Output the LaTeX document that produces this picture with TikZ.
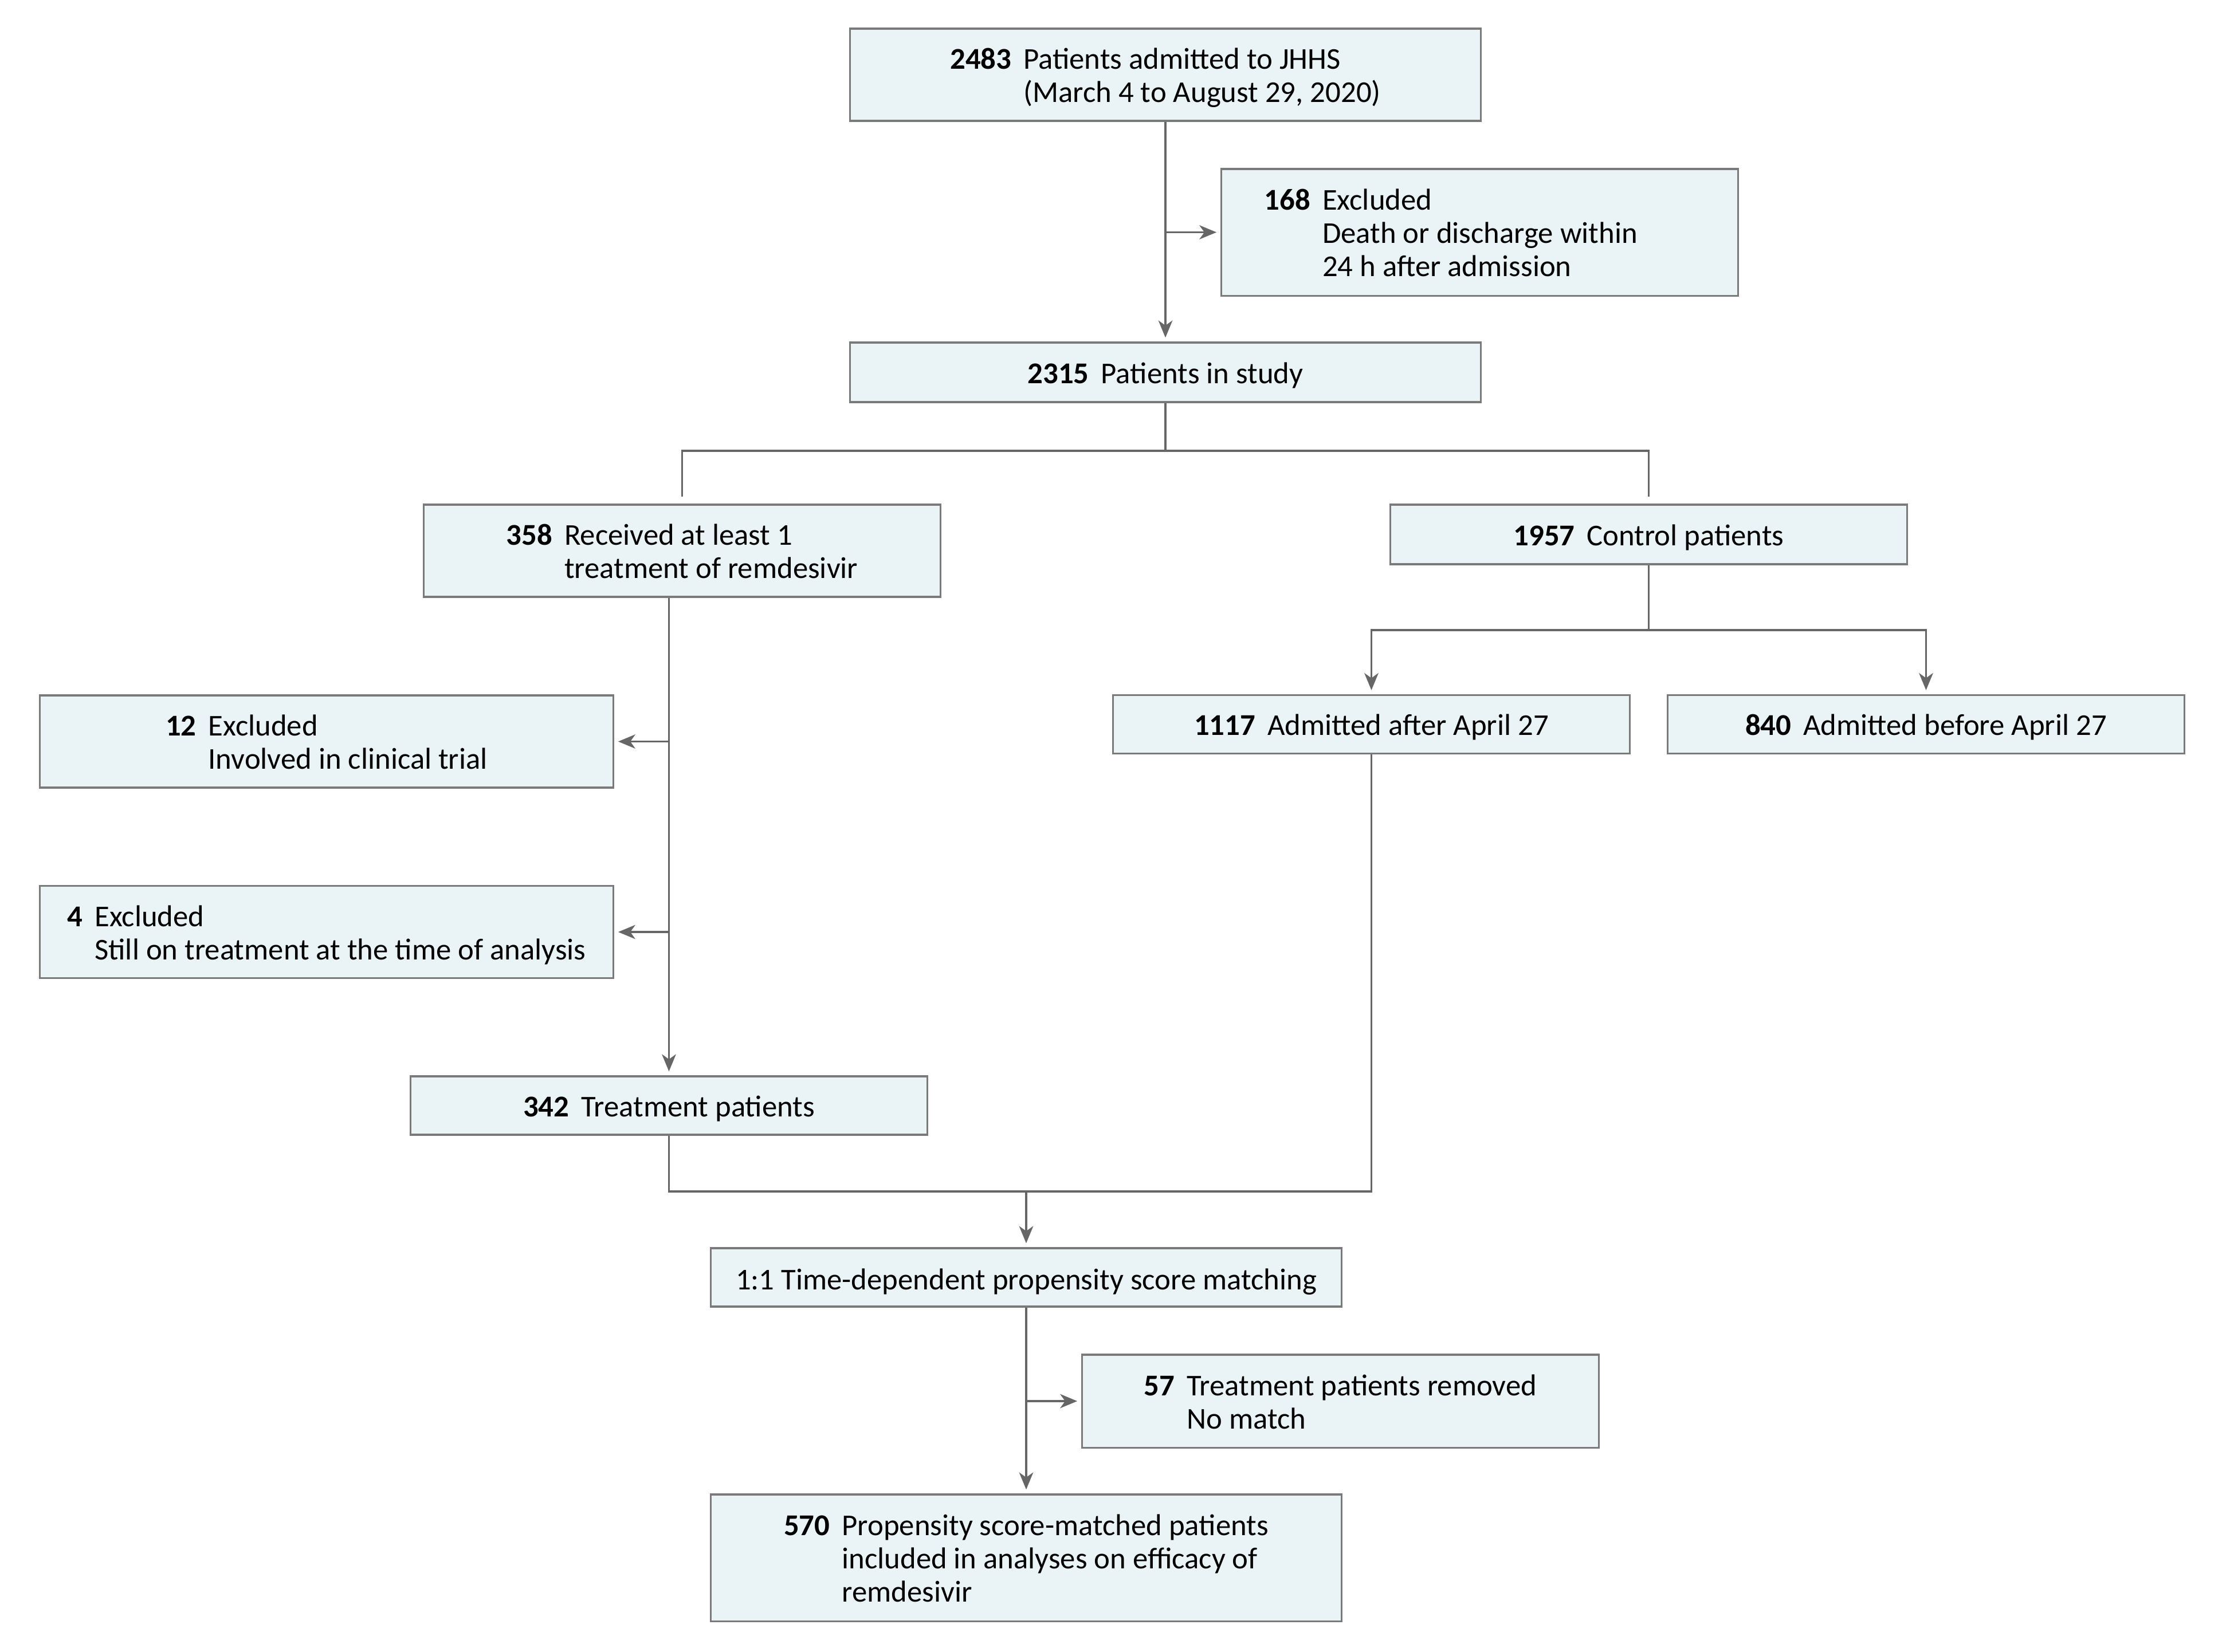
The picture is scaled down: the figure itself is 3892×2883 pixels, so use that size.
\documentclass[tikz,border=0pt]{standalone}
\usepackage{fontspec}
\setmainfont{Carlito}
\usepackage{tikz}
\usetikzlibrary{arrows.meta, positioning, calc}
\definecolor{boxfill}{RGB}{234, 243, 245}
\definecolor{boxedge}{RGB}{122, 122, 122}
\definecolor{linkgray}{RGB}{102, 102, 102}
\newcommand{\lowered}[1]{\raisebox{-2.2pt}[\height][\depth]{#1}}
\newcommand{\ntext}[2]{\lowered{\begin{tabular}{@{}l@{\hspace{6pt}}l@{}}\textbf{#1} & #2\end{tabular}}}
\tikzset{
  flowbox/.style={draw=boxedge, fill=boxfill, line width=0.9pt, inner sep=0pt,
    font=\fontsize{15pt}{16.5pt}\selectfont},
  conn/.style={draw=linkgray, line width=0.9pt},
  arr/.style={conn, -{Stealth[length=8.5pt, width=7pt, inset=2.5pt]}, shorten >=2pt},
  gapend/.style={shorten >=0.12cm}
}

\begin{document}
\begin{tikzpicture}[x=0.01cm, y=-0.01cm]
  \useasboundingbox[fill=white] (0,0) rectangle (3892,2883);

  % top of the flow
  \node[flowbox, minimum width=11cm, minimum height=1.61cm] (b2483) at (2034,130.5)
    {\ntext{2483}{Patients admitted to JHHS\\ & (March 4 to August 29, 2020)}};
  \node[flowbox, minimum width=9.01cm, minimum height=2.21cm] (b168) at (2582.5,405.5)
    {\ntext{168}{Excluded\\ & Death or discharge within\\ & 24 h after admission}\hspace*{1cm}};
  \node[flowbox, minimum width=11cm, minimum height=1.04cm] (b2315) at (2034,650)
    {\ntext{2315}{Patients in study}};

  % two arms
  \node[flowbox, minimum width=9.01cm, minimum height=1.61cm] (b358) at (1190.5,961.5)
    {\ntext{358}{Received at least 1\\ & treatment of remdesivir}};
  \node[flowbox, minimum width=9.01cm, minimum height=1.04cm] (b1957) at (2877.5,933)
    {\ntext{1957}{Control patients}};
  \node[flowbox, minimum width=9.01cm, minimum height=1.02cm] (b1117) at (2393.5,1264.5)
    {\ntext{1117}{Admitted after April 27}};
  \node[flowbox, minimum width=9.01cm, minimum height=1.02cm] (b840) at (3361.5,1264.5)
    {\ntext{840}{Admitted before April 27}};
  \node[flowbox, minimum width=10cm, minimum height=1.61cm] (b12) at (570,1294.5)
    {\ntext{12}{Excluded\\ & Involved in clinical trial}};
  \node[flowbox, minimum width=10cm, minimum height=1.61cm] (b4) at (570,1627)
    {\ntext{4}{Excluded\\ & Still on treatment at the time of analysis}};
  \node[flowbox, minimum width=9.01cm, minimum height=1.02cm] (b342) at (1167.5,1930)
    {\ntext{342}{Treatment patients}};

  % matching
  \node[flowbox, minimum width=11cm, minimum height=1.02cm] (bmatch) at (1791,2230)
    {\lowered{1:1 Time-dependent propensity score matching}};
  \node[flowbox, minimum width=9.01cm, minimum height=1.62cm] (b57) at (2339.5,2446)
    {\ntext{57}{Treatment patients removed\\ & No match}};
  \node[flowbox, minimum width=11cm, minimum height=2.21cm] (b570) at (1791,2719.5)
    {\ntext{570}{Propensity score-matched patients\\ & included in analyses on efficacy of\\ & remdesivir}};

  % connectors
  \coordinate (split) at (2034,787);
  \coordinate (split2) at (2877.5,1100);
  \coordinate (merge) at (1791,2080);

  \draw[arr] (b2483.south) -- (b2315.north);
  \draw[arr] (b2483.south |- b168.west) -- (b168.west);
  \draw[conn, gapend] (b2315.south) -- (split) -| (b358.north);
  \draw[conn, gapend] (split) -| (b1957.north);

  \draw[arr] (b342.north |- b358.south) -- (b342.north);
  \draw[arr] (b342.north |- b12.east) -- (b12.east);
  \draw[arr] (b342.north |- b4.east) -- (b4.east);

  \draw[conn] (b1957.south) -- (split2);
  \draw[arr] (split2) -| (b1117.north);
  \draw[arr] (split2) -| (b840.north);

  \draw[conn] (b342.south) |- (merge) -| (b1117.south);
  \draw[arr] (merge) -- (bmatch.north);
  \draw[arr] (bmatch.south) -- (b570.north);
  \draw[arr] (bmatch.south |- b57.west) -- (b57.west);
\end{tikzpicture}
\end{document}
